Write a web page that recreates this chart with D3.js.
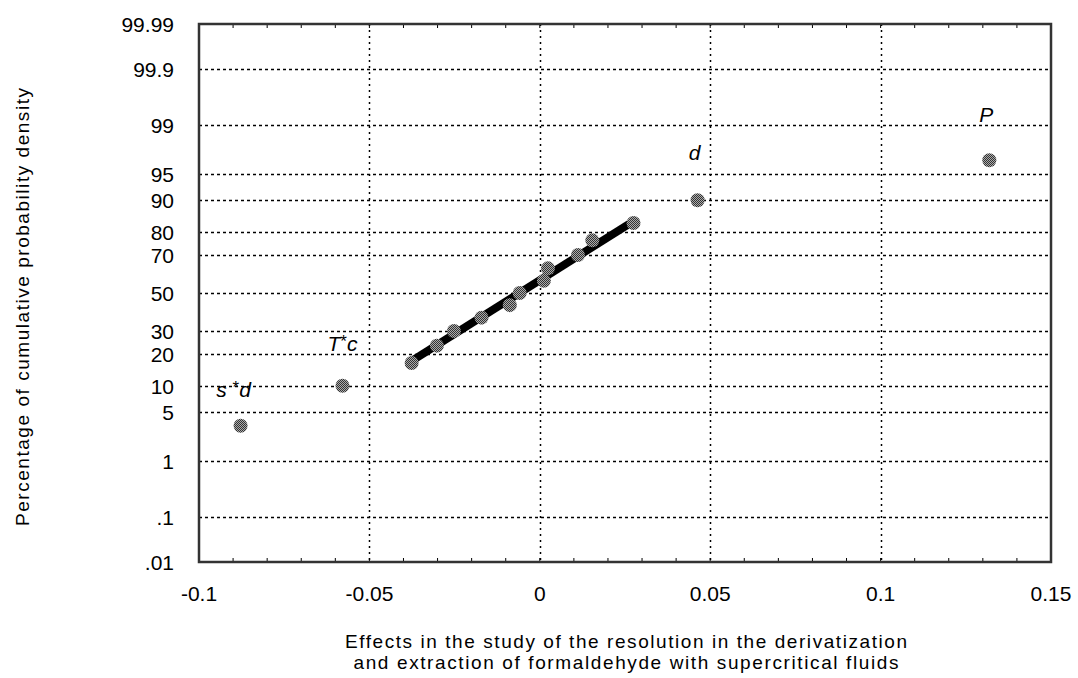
<!DOCTYPE html>
<html>
<head>
<meta charset="utf-8">
<script src="https://cdn.jsdelivr.net/npm/d3@7"></script>
<style>
  body { margin: 0; background: #fff; }
  text { font-family: "Liberation Sans", Arial, sans-serif; fill: #000; }
</style>
</head>
<body>
<svg id="chart" width="1078" height="678"></svg>
<script>
// tick values / labels
var xTicks = [-0.1, -0.05, 0, 0.05, 0.1, 0.15];
var xTickLabels = ['-0.1', '-0.05', '0', '0.05', '0.1', '0.15'];
var yTicks = [0.01, 0.1, 1, 5, 10, 20, 30, 50, 70, 80, 90, 95, 99, 99.9, 99.99];
var yTickLabels = ['.01', '.1', '1', '5', '10', '20', '30', '50', '70', '80', '90', '95', '99', '99.9', '99.99'];

// effects (x) and cumulative probability (%)
var effects = [-0.0878, -0.0579, -0.0376, -0.0302, -0.0252, -0.0171, -0.0088, -0.0059,
               0.0012, 0.0024, 0.0112, 0.0154, 0.0275, 0.0463, 0.1319];
var cumProb = [3.33, 10, 16.67, 23.33, 30, 36.67, 43.33, 50,
               56.67, 63.33, 70, 76.67, 83.33, 90, 96.67];

// labelled effects: index into effects
var labelIdx = [0, 1, 13, 14];
var labelText = [['s', '*', 'd'], ['T', '*', 'c'], ['d'], ['P']];

// fitted straight line through the central effects
var lineX = [-0.0385, 0.0266];
var lineP = [16.67, 83.33];

// inverse normal CDF (Acklam) for the probability axis
function probit(p) {
  var a = [-3.969683028665376e+01, 2.209460984245205e+02, -2.759285104469687e+02, 1.383577518672690e+02, -3.066479806614716e+01, 2.506628277459239e+00];
  var b = [-5.447609879822406e+01, 1.615858368580409e+02, -1.556989798598866e+02, 6.680131188771972e+01, -1.328068155288572e+01];
  var c = [-7.784894002430293e-03, -3.223964580411365e-01, -2.400758277161838e+00, -2.549732539343734e+00, 4.374664141464968e+00, 2.938163982698783e+00];
  var d = [7.784695709041462e-03, 3.224671290700398e-01, 2.445134137142996e+00, 3.754408661907416e+00];
  var pl = 0.02425, q, r;
  if (p < pl) {
    q = Math.sqrt(-2 * Math.log(p));
    return (((((c[0]*q+c[1])*q+c[2])*q+c[3])*q+c[4])*q+c[5]) / ((((d[0]*q+d[1])*q+d[2])*q+d[3])*q+1);
  } else if (p <= 1 - pl) {
    q = p - 0.5; r = q * q;
    return (((((a[0]*r+a[1])*r+a[2])*r+a[3])*r+a[4])*r+a[5])*q / (((((b[0]*r+b[1])*r+b[2])*r+b[3])*r+b[4])*r+1);
  }
  q = Math.sqrt(-2 * Math.log(1 - p));
  return -(((((c[0]*q+c[1])*q+c[2])*q+c[3])*q+c[4])*q+c[5]) / ((((d[0]*q+d[1])*q+d[2])*q+d[3])*q+1);
}

var pLeft = 199, pRight = 1051, pTop = 24, pBottom = 562;
var svg = d3.select('#chart');

var x = d3.scaleLinear().domain([-0.1, 0.15]).range([pLeft, pRight]);
var z = d3.scaleLinear().domain([probit(0.0001), probit(0.9999)]).range([pBottom, pTop]);
var y = function(pct) { return z(probit(pct / 100)); };

// dithered grey fill for the dots
var defs = svg.append('defs');
var pat = defs.append('pattern').attr('id', 'dither')
  .attr('width', 2).attr('height', 2).attr('patternUnits', 'userSpaceOnUse');
pat.append('rect').attr('width', 2).attr('height', 2).attr('fill', '#ababab');
pat.append('rect').attr('width', 1).attr('height', 1).attr('fill', '#333');
pat.append('rect').attr('x', 1).attr('y', 1).attr('width', 1).attr('height', 1).attr('fill', '#333');

// horizontal grid
svg.append('g').selectAll('line')
  .data(yTicks.slice(1, -1))
  .enter().append('line')
  .attr('x1', pLeft).attr('x2', pRight)
  .attr('y1', d => Math.round(y(d)) + 0.5).attr('y2', d => Math.round(y(d)) + 0.5)
  .attr('stroke', '#000').attr('stroke-width', 1.5)
  .attr('stroke-dasharray', '3,3');

// vertical grid
svg.append('g').selectAll('line')
  .data(xTicks.slice(1, -1))
  .enter().append('line')
  .attr('x1', d => Math.round(x(d)) + 0.5).attr('x2', d => Math.round(x(d)) + 0.5)
  .attr('y1', pTop).attr('y2', pBottom)
  .attr('stroke', '#000').attr('stroke-width', 1.5)
  .attr('stroke-dasharray', '2,4');

// minor ticks on top and bottom
var minor = d3.range(-0.09, 0.145, 0.01);
svg.append('g').selectAll('line')
  .data(minor)
  .enter().append('line')
  .attr('x1', d => x(d)).attr('x2', d => x(d))
  .attr('y1', pTop).attr('y2', pTop + 4)
  .attr('stroke', '#000');
svg.append('g').selectAll('line')
  .data(minor)
  .enter().append('line')
  .attr('x1', d => x(d)).attr('x2', d => x(d))
  .attr('y1', pBottom).attr('y2', pBottom - 4)
  .attr('stroke', '#000');

// frame
svg.append('rect')
  .attr('x', pLeft).attr('y', pTop)
  .attr('width', pRight - pLeft).attr('height', pBottom - pTop)
  .attr('fill', 'none').attr('stroke', '#333').attr('stroke-width', 2.5);

// tick labels
svg.append('g').selectAll('text')
  .data(yTicks)
  .enter().append('text')
  .attr('x', 174).attr('y', d => y(d) + 8)
  .attr('text-anchor', 'end')
  .attr('font-size', 21)
  .text((d, i) => yTickLabels[i]);

svg.append('g').selectAll('text')
  .data(xTicks)
  .enter().append('text')
  .attr('x', d => x(d)).attr('y', 601)
  .attr('text-anchor', 'middle')
  .attr('font-size', 21)
  .text((d, i) => xTickLabels[i]);

// axis titles
svg.append('text')
  .attr('transform', 'translate(29,307) rotate(-90)')
  .attr('text-anchor', 'middle')
  .attr('font-size', 19)
  .attr('textLength', 438).attr('lengthAdjust', 'spacing')
  .text('Percentage of cumulative probability density');

svg.append('text')
  .attr('x', 626).attr('y', 648)
  .attr('text-anchor', 'middle').attr('font-size', 19)
  .attr('textLength', 562).attr('lengthAdjust', 'spacing')
  .text('Effects in the study of the resolution in the derivatization');
svg.append('text')
  .attr('x', 626).attr('y', 669)
  .attr('text-anchor', 'middle').attr('font-size', 19)
  .attr('textLength', 545).attr('lengthAdjust', 'spacing')
  .text('and extraction of formaldehyde with supercritical fluids');

// fitted line
svg.append('line')
  .attr('x1', x(lineX[0])).attr('y1', y(lineP[0]))
  .attr('x2', x(lineX[1])).attr('y2', y(lineP[1]))
  .attr('stroke', '#000').attr('stroke-width', 8);

// points
var pts = effects.map((e, i) => ({x: e, p: cumProb[i]}));
svg.append('g').selectAll('circle')
  .data(pts)
  .enter().append('circle')
  .attr('cx', d => x(d.x)).attr('cy', d => y(d.p))
  .attr('r', 7)
  .attr('fill', 'url(#dither)');

// effect labels
var labelOff = [[-7, -29], [0, -35], [-3, -40], [-3, -38]];
labelIdx.forEach(function(idx, k) {
  var t = svg.append('text')
    .attr('x', x(effects[idx]) + labelOff[k][0])
    .attr('y', y(cumProb[idx]) + labelOff[k][1])
    .attr('text-anchor', 'middle')
    .attr('font-family', '"Liberation Serif", "Times New Roman", serif')
    .attr('font-style', 'italic')
    .attr('font-size', 21);
  var parts = labelText[k];
  if (parts.length === 1) {
    t.text(parts[0]);
  } else {
    t.append('tspan').text(parts[0] === 's' ? parts[0] + ' ' : parts[0]);
    t.append('tspan').attr('dy', -4).attr('font-size', 17).attr('font-style', 'normal').text(parts[1]);
    t.append('tspan').attr('dy', 4).text(parts[2]);
  }
});
</script>
</body>
</html>
